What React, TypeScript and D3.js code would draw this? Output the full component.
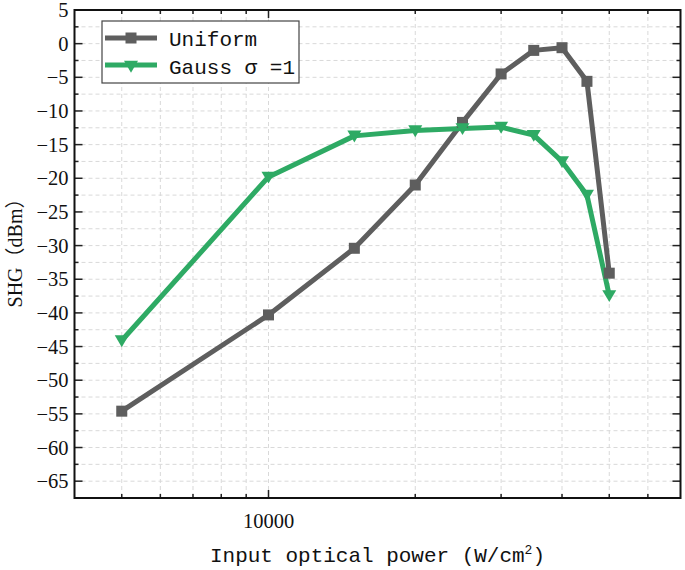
import React from "react";
import * as d3 from "d3";

const powers = [5000, 10000, 15000, 20000, 25000, 30000, 35000, 40000, 45000, 50000];
const uniform = [-54.6, -40.3, -30.4, -21.0, -11.7, -4.5, -1.0, -0.6, -5.6, -34.1];
const gauss = [-44.1, -19.8, -13.7, -12.9, -12.6, -12.4, -13.6, -17.5, -22.5, -37.4];
const yMajor = [5, 0, -5, -10, -15, -20, -25, -30, -35, -40, -45, -50, -55, -60, -65];
const xLabelTicks = [10000];

const W = 685, H = 570;
const L = 74.5, R = 680.5, T = 10, B = 498;
const GRAY = "#5e5e5e";
const GREEN = "#2eaa64";

export default function App() {
  const x = d3.scaleLog().domain([4000, 70000]).range([L, R]);
  const y = d3.scaleLinear().domain([-67.5, 5]).range([B, T]);

  const xTicks: number[] = [];
  for (let v = 4000; v <= 70000; v += v < 10000 ? 1000 : 10000) xTicks.push(v);
  const xMinor = xTicks.filter((v) => v !== 10000 && v > 4000 && v < 70000);
  const yMinor: number[] = [];
  for (let v = -67.5; v <= 5; v += 2.5) if (!yMajor.includes(v)) yMinor.push(v);
  const yAll = [...yMajor, ...yMinor];

  const line = d3
    .line<number>()
    .x((_, i) => x(powers[i]))
    .y((d) => y(d));

  const serif = "'Liberation Serif', 'Times New Roman', serif";
  const mono = "'Liberation Mono', 'DejaVu Sans Mono', monospace";

  const tri = (cx: number, cy: number, s = 7) =>
    `M${cx - s},${cy - s * 0.75} L${cx + s},${cy - s * 0.75} L${cx},${cy + s * 0.95} Z`;

  return (
    <svg width={W} height={H} style={{ position: "absolute", left: 0, top: 0, background: "#fff" }}>
      <rect x={0} y={0} width={W} height={H} fill="#fff" />
      {/* grid */}
      <g stroke="#d9d9d9" strokeWidth={1} strokeDasharray="4,3">
        {xTicks
          .filter((v) => v > 4000 && v < 70000)
          .map((v) => (
            <line key={"gx" + v} x1={x(v)} x2={x(v)} y1={T} y2={B} />
          ))}
        {yAll
          .filter((v) => v > -67.5 && v < 5)
          .map((v) => (
            <line key={"gy" + v} x1={L} x2={R} y1={y(v)} y2={y(v)} />
          ))}
      </g>
      {/* ticks */}
      <g stroke="#222" strokeWidth={1.5}>
        {xMinor.map((v) => (
          <g key={"xt" + v}>
            <line x1={x(v)} x2={x(v)} y1={B} y2={B - 4} />
            <line x1={x(v)} x2={x(v)} y1={T} y2={T + 4} />
          </g>
        ))}
        {xLabelTicks.map((v) => (
          <g key={"xM" + v}>
            <line x1={x(v)} x2={x(v)} y1={B} y2={B - 8} />
            <line x1={x(v)} x2={x(v)} y1={T} y2={T + 8} />
          </g>
        ))}
        {yMajor.map((v) => (
          <g key={"yt" + v}>
            <line x1={L} x2={L + 8} y1={y(v)} y2={y(v)} />
            <line x1={R} x2={R - 8} y1={y(v)} y2={y(v)} />
          </g>
        ))}
        {yMinor.map((v) => (
          <g key={"ym" + v}>
            <line x1={L} x2={L + 4} y1={y(v)} y2={y(v)} />
            <line x1={R} x2={R - 4} y1={y(v)} y2={y(v)} />
          </g>
        ))}
      </g>
      <rect x={L} y={T} width={R - L} height={B - T} fill="none" stroke="#111" strokeWidth={2} />
      {/* tick labels */}
      <g fontFamily={serif} fontSize={20.5} fill="#111">
        {yMajor.map((v) => (
          <text key={"yl" + v} x={L - 6} y={y(v)} dy="0.35em" textAnchor="end">
            {v < 0 ? "\u2212" + Math.abs(v) : String(v)}
          </text>
        ))}
        {xLabelTicks.map((v) => (
          <text key={"xl" + v} x={x(v)} y={B + 30} textAnchor="middle">
            {v}
          </text>
        ))}
      </g>
      {/* axis titles */}
      <text x={210} y={562} fontFamily={mono} fontSize={21} fill="#111" textLength={335} lengthAdjust="spacingAndGlyphs">
        Input optical power (W/cm<tspan dy={-8} fontSize={13}>2</tspan>
        <tspan dy={8}>)</tspan>
      </text>
      <text
        transform={`translate(22,248) rotate(-90)`}
        textAnchor="middle"
        fontFamily={serif}
        fontSize={20}
        fill="#111"
      >
        SHG<tspan fontFamily="'Noto Sans CJK SC', sans-serif">（</tspan>dBm<tspan fontFamily="'Noto Sans CJK SC', sans-serif">）</tspan>
      </text>
      {/* series */}
      <path d={line(uniform) || ""} fill="none" stroke={GRAY} strokeWidth={5} strokeLinejoin="round" />
      <path d={line(gauss) || ""} fill="none" stroke={GREEN} strokeWidth={5} strokeLinejoin="round" />
      {uniform.map((v, i) => (
        <rect key={"u" + i} x={x(powers[i]) - 5.5} y={y(v) - 5.5} width={11} height={11} fill={GRAY} />
      ))}
      {gauss.map((v, i) => (
        <path key={"g" + i} d={tri(x(powers[i]), y(v))} fill={GREEN} />
      ))}
      {/* legend */}
      <rect x={102} y={21} width={197} height={62} fill="#fff" stroke="#444" strokeWidth={1.2} />
      <line x1={105} x2={157} y1={38} y2={38} stroke={GRAY} strokeWidth={5} />
      <rect x={125.5} y={32.5} width={11} height={11} fill={GRAY} />
      <line x1={105} x2={157} y1={65} y2={65} stroke={GREEN} strokeWidth={5} />
      <path d={tri(131, 66)} fill={GREEN} />
      <g fontFamily={mono} fontSize={21} fill="#111">
        <text x={169} y={46}>Uniform</text>
        <text x={169} y={74}>Gauss σ =1</text>
      </g>
    </svg>
  );
}
